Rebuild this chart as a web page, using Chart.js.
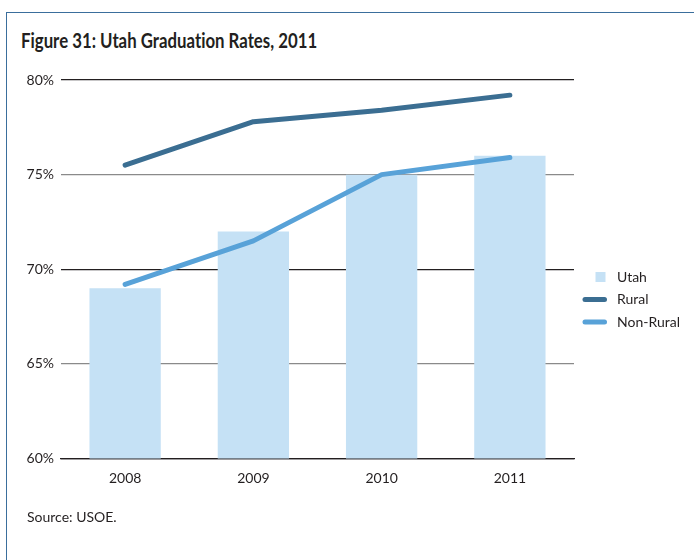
<!DOCTYPE html>
<html>
<head>
<meta charset="utf-8">
<script src="https://cdn.jsdelivr.net/npm/chart.js@4.4.1/dist/chart.umd.min.js"></script>
<style>
  html, body { margin: 0; padding: 0; background: #fff; }
  #wrap { position: relative; width: 694px; height: 560px; overflow: hidden; font-family: Lato, "Open Sans", sans-serif; }
  #frame { position: absolute; left: 6px; top: 12px; right: 0; bottom: -4px;
           border-top: 1.5px solid #3a6e9c; border-left: 1.5px solid #3a6e9c; }
  #title { position: absolute; left: 21px; top: 28px; font-size: 20px; font-weight: 700; color: #231f20; white-space: nowrap;
           font-variant-ligatures: none; transform: scaleX(0.84); transform-origin: left top; }
  #source { position: absolute; left: 27px; top: 508px; font-size: 14px; color: #231f20; }
  #chart { position: absolute; left: 0; top: 0; }
</style>
</head>
<body>
<div id="wrap">
  <div id="frame"></div>
  <div id="title">Figure 31: Utah Graduation Rates, 2011</div>
  <canvas id="chart" width="694" height="560"></canvas>
  <div id="source">Source: USOE.</div>
</div>
<script>
// chart data
const years = ['2008', '2009', '2010', '2011'];
const utahRates = [69.0, 72.0, 75.0, 76.0];
const ruralRates = [75.5, 77.8, 78.4, 79.2];
const nonRuralRates = [69.2, 71.5, 75.0, 75.9];
const yTicks = [60, 65, 70, 75, 80];

const colors = {
  utah: '#c5e1f5',
  rural: '#3b6e92',
  nonRural: '#58a2d8'
};

// simple legend drawn at the right of the plot
const sideLegend = {
  id: 'sideLegend',
  afterDraw(chart) {
    const ctx = chart.ctx;
    const rows = [
      { label: 'Utah', color: colors.utah, kind: 'box', y: 277 },
      { label: 'Rural', color: colors.rural, kind: 'line', y: 299.5 },
      { label: 'Non-Rural', color: colors.nonRural, kind: 'line', y: 322 }
    ];
    ctx.save();
    rows.forEach(r => {
      if (r.kind === 'box') {
        ctx.fillStyle = r.color;
        ctx.fillRect(595.5, r.y - 5, 10, 10);
      } else {
        ctx.strokeStyle = r.color;
        ctx.lineWidth = 5;
        ctx.lineCap = 'round';
        ctx.beginPath();
        ctx.moveTo(585, r.y);
        ctx.lineTo(604.5, r.y);
        ctx.stroke();
      }
      ctx.fillStyle = '#231f20';
      ctx.font = '14px Lato, "Open Sans", sans-serif';
      ctx.textBaseline = 'middle';
      ctx.fillText(r.label, 617, r.y);
    });
    ctx.restore();
  }
};

new Chart(document.getElementById('chart'), {
  type: 'bar',
  data: {
    labels: years,
    datasets: [
      {
        label: 'Rural',
        type: 'line',
        data: ruralRates,
        borderColor: colors.rural,
        borderWidth: 5,
        borderCapStyle: 'round',
        borderJoinStyle: 'round',
        pointRadius: 0,
        tension: 0,
        order: 1
      },
      {
        label: 'Non-Rural',
        type: 'line',
        data: nonRuralRates,
        borderColor: colors.nonRural,
        borderWidth: 5,
        borderCapStyle: 'round',
        borderJoinStyle: 'round',
        pointRadius: 0,
        tension: 0,
        order: 2
      },
      {
        label: 'Utah',
        data: utahRates,
        backgroundColor: colors.utah,
        categoryPercentage: 1,
        barPercentage: 0.556,
        order: 3
      }
    ]
  },
  options: {
    responsive: false,
    animation: false,
    layout: { padding: { top: 80, right: 120, left: 0, bottom: 0 } },
    plugins: {
      legend: { display: false },
      tooltip: { enabled: false }
    },
    scales: {
      x: {
        grid: { display: false },
        border: { display: true, color: '#231f20', width: 1.3 },
        ticks: {
          color: '#231f20',
          padding: 4,
          font: { family: 'Lato, "Open Sans", sans-serif', size: 14 }
        },
        afterFit(scale) { scale.height = 101.5; }
      },
      y: {
        min: 60,
        max: 80,
        afterBuildTicks(scale) { scale.ticks = yTicks.map(v => ({ value: v })); },
        grid: {
          drawTicks: false,
          lineWidth: 1.2,
          color: ctx => (ctx.tick && ctx.tick.value % 10 === 0) ? '#231f20' : '#8a8a8a'
        },
        border: { display: false },
        ticks: {
          color: '#231f20',
          padding: 7,
          font: { family: 'Lato, "Open Sans", sans-serif', size: 14 },
          callback: v => v + '%'
        },
        afterFit(scale) { scale.width = 61; }
      }
    }
  },
  plugins: [sideLegend]
});
</script>
</body>
</html>
